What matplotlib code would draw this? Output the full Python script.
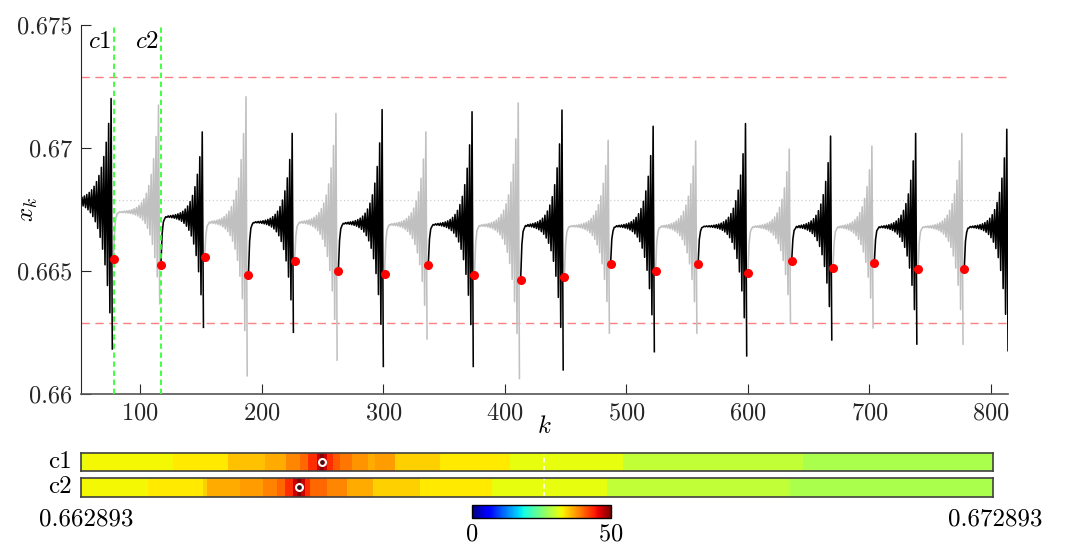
import numpy as np
import matplotlib.pyplot as plt
from matplotlib import colors as mcolors
from matplotlib import colorbar as mcolorbar

plt.rcParams['font.family'] = 'cmr10'
plt.rcParams['mathtext.fontset'] = 'cm'
plt.rcParams['axes.formatter.use_mathtext'] = True

# --- trace segments: one per reset (red dot) ---
seg_k = [51, 78, 117, 153, 189, 227, 263, 301, 337, 375, 413,
         449, 487, 524, 559, 600, 636, 670, 704, 740, 778]
k_last = 814
seg_start = [0.66785, 0.66550, 0.66524, 0.66555, 0.66481, 0.66539, 0.66499,
             0.66487, 0.66524, 0.66483, 0.66464, 0.66476, 0.66528, 0.66499,
             0.66526, 0.66493, 0.66538, 0.66512, 0.66531, 0.66507, 0.66507]
seg_plateau = [0.66785, 0.66739, 0.66721, 0.66698, 0.66698, 0.66698, 0.66694,
               0.66689, 0.66689, 0.66685, 0.66685, 0.66682, 0.66682, 0.66681,
               0.66681, 0.66680, 0.66680, 0.66679, 0.66679, 0.66679, 0.66679]
seg_top = [0.67201, 0.67174, 0.67065, 0.67208, 0.67059, 0.67140, 0.67156,
           0.67065, 0.67147, 0.67183, 0.67154, 0.67031, 0.67088, 0.67028,
           0.67099, 0.66995, 0.67048, 0.67007, 0.67059, 0.67059, 0.67076]
seg_bottom = [0.66182, 0.66366, 0.66270, 0.66073, 0.66250, 0.66137, 0.66111,
              0.66223, 0.66111, 0.66062, 0.66097, 0.66247, 0.66171, 0.66247,
              0.66154, 0.66288, 0.66219, 0.66268, 0.66202, 0.66202, 0.66175]

x_fix = 0.667893
band_lo, band_hi = 0.662893, 0.672893
c_k = [78, 117]
c_names = ['c1', 'c2']

yticks = [0.66, 0.665, 0.67, 0.675]
ytick_labels = ['0.66', '0.665', '0.67', '0.675']
xticks = [100, 200, 300, 400, 500, 600, 700, 800]

# --- strips (value maps over the band), jet 0..50 ---
c1_edges = [0.662893, 0.662940, 0.663905, 0.664508, 0.664913, 0.665143, 0.665297,
            0.665385, 0.665483, 0.665516, 0.665560, 0.665593, 0.665659, 0.665735,
            0.665867, 0.666043, 0.666119, 0.666338, 0.666832, 0.667599, 0.668838,
            0.670811, 0.672893]
c1_vals = [31.6, 32.4, 33.1, 35.3, 36.5, 38.3, 39.9, 43, 46.5, 49.5, 46.5, 43,
           40.7, 39.2, 37.6, 36.5, 37.3, 34.5, 33.1, 31.6, 29.2, 27.8]
c2_edges = [0.662893, 0.663631, 0.664234, 0.664277, 0.664639, 0.664891, 0.665045,
            0.665133, 0.665220, 0.665264, 0.665308, 0.665352, 0.665407, 0.665593,
            0.665812, 0.666097, 0.666612, 0.667402, 0.668662, 0.670668, 0.672893]
c2_vals = [32.4, 33.1, 34.5, 36.5, 37.3, 38.6, 39.9, 43, 46.5, 49.5, 46.5, 43,
           39.9, 38.3, 36.5, 34.5, 33.1, 31.6, 29.2, 27.8]
strip_mark = [0.66554, 0.66529]
strip_line = 0.66797
cb_min, cb_max = 0, 50

W, H = 1071, 549
fig = plt.figure(figsize=(W / 100, H / 100), dpi=100)

ax = fig.add_axes([80.7 / W, 1 - 393.7 / H, 927.3 / W, 368.7 / H])

ax.axhline(x_fix, color='#cfcfcf', lw=0.9, ls=(0, (1, 2)), zorder=1)
for yb in (band_lo, band_hi):
    ax.axhline(yb, color='#ff8080', lw=1.0, ls=(0, (6, 4)), zorder=1)

for i in range(len(seg_k)):
    k0 = seg_k[i]
    k1 = seg_k[i + 1] - 1 if i + 1 < len(seg_k) else k_last
    kk = np.arange(k0, k1 + 1)
    n = kk - k1
    g = 1.15 if i == 0 else 1.19
    base = seg_plateau[i] - (seg_plateau[i] - seg_start[i]) * 0.35 ** (kk - k0)
    down = (n % 2 == 0)
    osc = np.where(down,
                   -(seg_plateau[i] - seg_bottom[i]) * g ** n.astype(float),
                   (seg_top[i] - seg_plateau[i]) * g ** (n + 1.0))
    col = 'black' if i % 2 == 0 else '#c0c0c0'
    ax.plot(kk, base + osc, color=col, lw=1.15, zorder=2)

for ck, name in zip(c_k, c_names):
    ax.axvline(ck, color='#33ff33', lw=1.3, ls=(0, (3, 2)), zorder=3)
    ax.text(ck - 1.5, 0.67431, '$' + name + '$', ha='right', va='center', fontsize=18)

ax.plot(seg_k[1:], seg_start[1:], 'o', color='red', ms=5.5, zorder=4)

ax.set_xlim(51, 814)
ax.set_ylim(0.66, 0.675)
ax.set_yticks(yticks)
ax.set_yticklabels(ytick_labels)
ax.set_xticks(xticks)
ax.tick_params(direction='in', length=7, width=0.8, labelsize=17.5, colors='#262626')
ax.tick_params(axis='y', pad=6)
ax.tick_params(axis='x', pad=6)
for s in ('top', 'right'):
    ax.spines[s].set_visible(False)
ax.spines['left'].set_color('#262626')
ax.spines['bottom'].set_color('#555555')
ax.spines['bottom'].set_linewidth(1.2)
ax.set_xlabel('$k$', fontsize=18)
ax.set_ylabel('$x_k$', fontsize=18)
ax.xaxis.set_label_coords(0.5, -0.06)
ax.yaxis.set_label_coords(-0.044, 0.5)

norm = mcolors.Normalize(cb_min, cb_max)
strips = [(c1_edges, c1_vals, 452.5), (c2_edges, c2_vals, 478.0)]
for j, (edges, vals, ytop) in enumerate(strips):
    sax = fig.add_axes([80.7 / W, 1 - (ytop + 18.5) / H, 912.3 / W, 18.5 / H])
    sax.pcolormesh(edges, [0, 1], [vals], cmap='jet', norm=norm)
    sax.axvline(strip_line, color='white', lw=1.2, ls=(0, (3, 2)))
    sax.plot(strip_mark[j], 0.5, 'o', mfc='none', mec='white', mew=1.5, ms=5)
    sax.plot(strip_mark[j], 0.5, 'o', color='#202020', ms=1.5)
    sax.set_xlim(band_lo, band_hi)
    sax.set_ylim(0, 1)
    sax.set_xticks([])
    sax.set_yticks([])
    for s in sax.spines.values():
        s.set_color('#404040')
        s.set_linewidth(1.2)
    sax.text(-0.0095, 0.5, c_names[j], transform=sax.transAxes,
             ha='right', va='center', fontsize=18)

fig.text(86 / W, 1 - 519 / H, '0.662893', ha='center', va='center', fontsize=18)
fig.text(995 / W, 1 - 519 / H, '0.672893', ha='center', va='center', fontsize=18)

cax = fig.add_axes([472 / W, 1 - 518 / H, 139 / W, 13 / H])
cb = mcolorbar.ColorbarBase(cax, cmap='jet', norm=norm, orientation='horizontal')
cb.set_ticks([cb_min, cb_max])
cb.outline.set_linewidth(1.0)
cax.tick_params(length=0, pad=4, labelsize=17.5)

fig.savefig('out.png', dpi=100)
